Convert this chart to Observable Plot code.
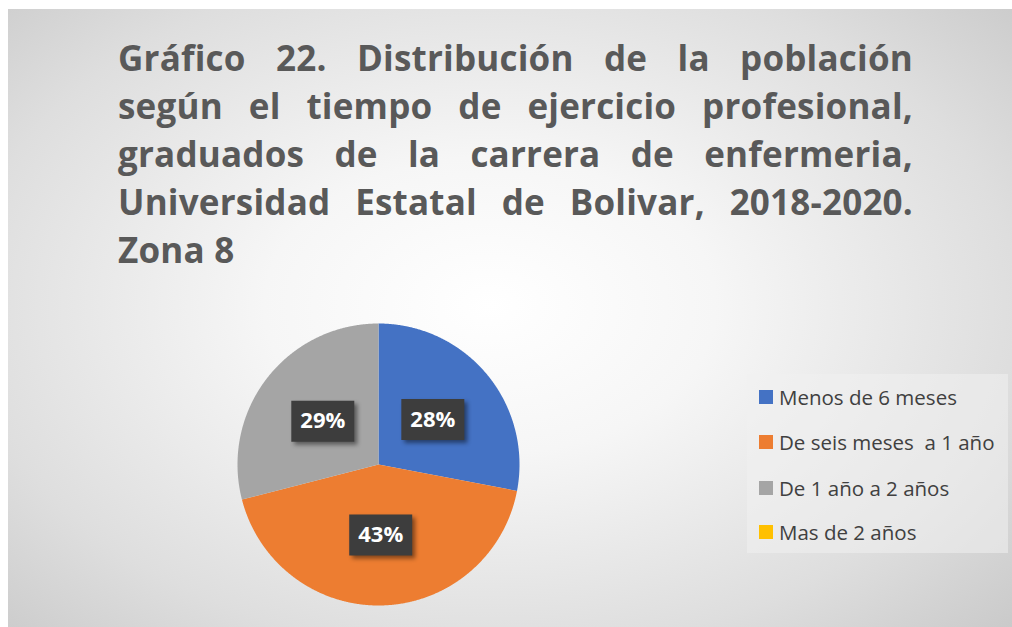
<!DOCTYPE html>
<html><head><meta charset="utf-8">
<script src="https://cdn.jsdelivr.net/npm/d3@7"></script>
<script src="https://cdn.jsdelivr.net/npm/@observablehq/plot@0.6"></script>
<style>
html,body{margin:0;padding:0;background:#fff;width:1012px;height:627px;overflow:hidden;}
#frame{position:absolute;left:8px;top:9px;width:1004px;height:618px;
  background:radial-gradient(ellipse 75% 80% at 48% 48%, #ffffff 0%, #f6f6f6 30%, #dedede 70%, #c6c6c6 100%);}
#title{position:absolute;left:118px;top:34px;width:795px;font-family:"Open Sans",sans-serif;font-weight:700;font-size:35px;line-height:48px;color:#595959;letter-spacing:0.2px;}
#title div{text-align:justify;text-align-last:justify;white-space:nowrap;}
#title div.last{text-align-last:left;}
#chart{position:absolute;left:0;top:0;}
#chart g[aria-label="dot"] path{filter:drop-shadow(3px 3px 2px rgba(0,0,0,0.45));}
#legend{position:absolute;left:747px;top:374px;width:261px;height:179px;background:rgba(240,240,240,0.55);font-family:"Open Sans",sans-serif;font-size:20.5px;color:#404040;}
#legend .item{position:absolute;left:12px;height:28px;display:flex;align-items:center;white-space:pre;}
#legend .sw{width:14px;height:14px;margin-right:6px;}
</style></head>
<body>
<div id="frame"></div>
<div id="title"></div>
<div id="chart"></div>
<div id="legend"></div>
<script>
const titleLines = [
  "Gráfico 22. Distribución de la población",
  "según el tiempo de ejercicio profesional,",
  "graduados de la carrera de enfermeria,",
  "Universidad Estatal de Bolivar, 2018-2020.",
  "Zona 8"
];
const categories = ["Menos de 6 meses", "De seis meses  a 1 año", "De 1 año a 2 años", "Mas de 2 años"];
const percents = [28, 43, 29, 0];
const colors = ["#4472C4", "#ED7D31", "#A5A5A5", "#FFC000"];

// title
const t = document.getElementById("title");
titleLines.forEach((s, i) => {
  const d = document.createElement("div");
  d.textContent = s;
  if (i === titleLines.length - 1) d.className = "last";
  t.appendChild(d);
});

// pie geometry from data
const data = categories.map((c, i) => ({category: c, value: percents[i]}));
const arcs = d3.pie().sort(null).value(d => d.value)(data);
const slicePts = [];
arcs.forEach(a => {
  if (a.endAngle - a.startAngle <= 0) return;
  const c = a.data.category;
  slicePts.push({category: c, x: 0, y: 0});
  const n = Math.max(2, Math.ceil((a.endAngle - a.startAngle) / 0.005));
  for (let k = 0; k <= n; k++) {
    const ang = a.startAngle + (a.endAngle - a.startAngle) * k / n;
    slicePts.push({category: c, x: Math.sin(ang), y: Math.cos(ang)});
  }
  slicePts.push({category: c, x: 0, y: 0});
});
const labels = arcs.filter(a => a.data.value > 0).map(a => {
  const m = (a.startAngle + a.endAngle) / 2;
  return {x: 0.5 * Math.sin(m), y: 0.5 * Math.cos(m), text: a.data.value + "%"};
});

const boxSymbol = {draw(ctx) { ctx.rect(-31.5, -20.5, 63, 41); }};
const cx = 378, cy = 464, R = 141;

const plot = Plot.plot({
  width: 1012,
  height: 627,
  margin: 0,
  style: {background: "transparent", overflow: "visible"},
  x: {domain: [-1, 1], range: [cx - R, cx + R], axis: null},
  y: {domain: [-1, 1], range: [cy + R, cy - R], axis: null},
  color: {domain: categories, range: colors},
  marks: [
    Plot.line(slicePts, {x: "x", y: "y", z: "category", fill: "category", stroke: "none"}),
    Plot.dot(labels, {x: "x", y: "y", symbol: boxSymbol, r: 10, fill: "#3d3d3d", stroke: "none"}),
    Plot.text(labels, {x: "x", y: "y", text: "text", fill: "white", fontSize: 22, fontWeight: "bold", fontFamily: "'Open Sans', sans-serif"})
  ]
});
document.getElementById("chart").appendChild(plot);

// legend
const color = plot.scale("color");
const lg = document.getElementById("legend");
const itemTops = [9, 54, 100, 144];
categories.forEach((c, i) => {
  const it = document.createElement("div");
  it.className = "item";
  it.style.top = itemTops[i] + "px";
  const sw = document.createElement("span");
  sw.className = "sw";
  sw.style.background = color.range[i];
  const tx = document.createElement("span");
  tx.textContent = c;
  it.appendChild(sw); it.appendChild(tx);
  lg.appendChild(it);
});
</script>
</body></html>
